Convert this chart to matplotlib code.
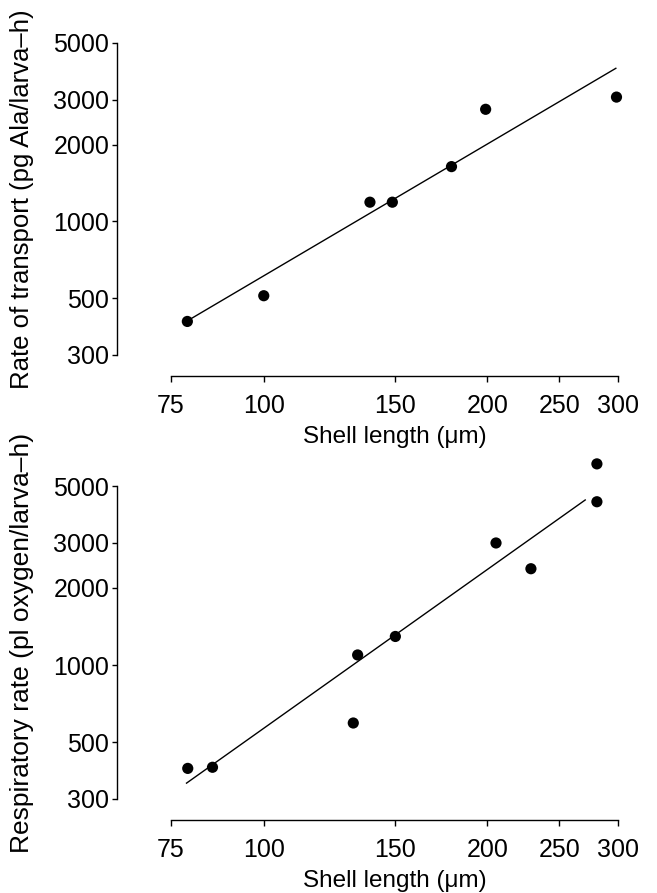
import matplotlib
matplotlib.use("Agg")
import matplotlib.pyplot as plt
from matplotlib.ticker import FixedLocator, FixedFormatter, NullLocator

plt.rcParams['font.family'] = ['Liberation Sans', 'DejaVu Sans']

# top panel: amino acid transport
top_x = [78.9, 100, 139, 149, 179, 199, 298.6]
top_y = [406, 512, 1190, 1190, 1640, 2750, 3070]
top_fit_x = [80, 298]
top_fit_y = [418, 3980]

# bottom panel: respiration
bot_x = [79, 85.3, 132, 133.8, 150.4, 205.5, 229, 281, 281]
bot_y = [395, 399, 594, 1095, 1293, 2996, 2377, 6100, 4340]
bot_fit_x = [78.7, 271]
bot_fit_y = [346, 4410]

x_ticks = [75, 100, 150, 200, 250, 300]
y_ticks = [300, 500, 1000, 2000, 3000, 5000]

W, H = 657, 893
fig = plt.figure(figsize=(W / 100, H / 100), dpi=100)

def px_axes(left, top, right, bottom):
    return fig.add_axes([left / W, 1 - bottom / H, (right - left) / W, (bottom - top) / H])

ax1 = px_axes(171, 43, 618, 355)
ax2 = px_axes(171, 486, 618, 799)

panels = [
    (ax1, top_x, top_y, top_fit_x, top_fit_y, "Rate of transport (pg Ala/larva\u2013h)", 18.5),
    (ax2, bot_x, bot_y, bot_fit_x, bot_fit_y, "Respiratory rate (pl oxygen/larva\u2013h)", 19),
]

for ax, xs, ys, fx, fy, ylab, yfs in panels:
    ax.set_xscale('log')
    ax.set_yscale('log')
    ax.set_xlim(75, 300)
    ax.set_ylim(300, 5000)
    ax.plot(fx, fy, color='black', lw=1.0, clip_on=False)
    ax.scatter(xs, ys, s=65, color='black', edgecolors='none', clip_on=False, zorder=3)

    for s in ['top', 'right']:
        ax.spines[s].set_visible(False)
    ax.spines['left'].set_position(('outward', 39))
    ax.spines['bottom'].set_position(('outward', 15))
    ax.spines['left'].set_bounds(300, 5000)
    ax.spines['bottom'].set_bounds(75, 300)
    ax.spines['left'].set_linewidth(1.0)
    ax.spines['bottom'].set_linewidth(1.0)

    ax.xaxis.set_major_locator(FixedLocator(x_ticks))
    ax.xaxis.set_major_formatter(FixedFormatter([str(t) for t in x_ticks]))
    ax.xaxis.set_minor_locator(NullLocator())
    ax.yaxis.set_major_locator(FixedLocator(y_ticks))
    ax.yaxis.set_major_formatter(FixedFormatter([str(t) for t in y_ticks]))
    ax.yaxis.set_minor_locator(NullLocator())

    ax.tick_params(axis='x', direction='out', length=4.5, width=1.0, pad=8.5, labelsize=18)
    ax.tick_params(axis='y', direction='out', length=3.5, width=1.0, pad=2, labelsize=18)

    ax.set_xlabel("Shell length (\u03bcm)", fontsize=17.5, labelpad=6)
    ax.set_ylabel(ylab, fontsize=yfs)
    ax.yaxis.set_label_coords(-137 / (618 - 171), 0.5)
    ax.patch.set_visible(False)

fig.savefig("out.png", dpi=100)
